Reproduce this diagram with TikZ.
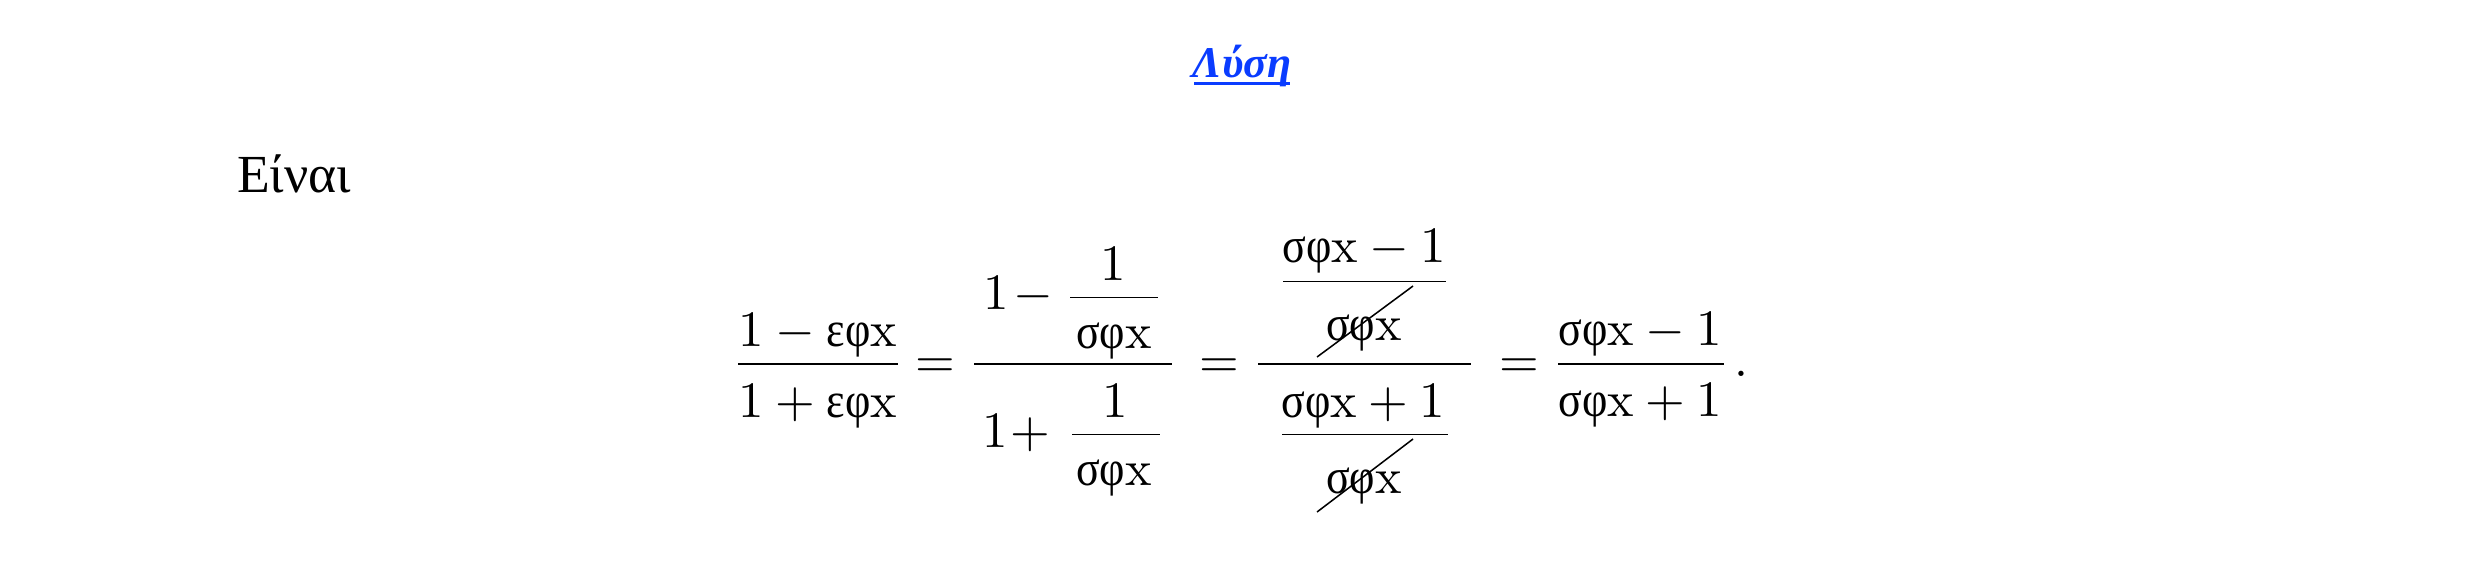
\documentclass[tikz,border=0pt]{standalone}
\usepackage{fontspec}
\newfontfamily\grf{Liberation Serif}
\newfontfamily\grm[FakeStretch=0.88]{Liberation Serif}
\definecolor{linkblue}{RGB}{10,60,255}
\newcommand\sfx{\mbox{\grm σφ}\mathrm{x}}
\newcommand\efx{\mbox{\grm εφ}\mathrm{x}}
\begin{document}
\begin{tikzpicture}[x=0.196pt,y=-0.196pt,
  txt/.style={inner sep=0pt,outer sep=0pt,anchor=base,font=\fontsize{9.8}{12}\selectfont},
  mainbar/.style={line width=0.4pt},
  subbar/.style={line width=0.2pt},
  cancelline/.style={line width=0.3pt}]
\useasboundingbox (0,0) rectangle (2480,569);
% title
\node[txt, font=\fontsize{8.6}{10}\selectfont\grf\bfseries\itshape, text=linkblue] (title) at (1242,77) {Λύση};
\coordinate (ulA) at (1194,83.5);
\coordinate (ulB) at (1290,83.5);
\draw[linkblue, line width=0.6pt] (ulA) -- (ulB);
% intro
\node[txt, anchor=base west, font=\fontsize{10.5}{12}\selectfont\grf] (einai) at (237,192) {Είναι};
% fraction 1
\node[txt] (n1) at (818,346) {$1-\efx$};
\node[txt] (d1) at (818,417) {$1+\efx$};
\draw[mainbar] (738,364) -- (898,364);
\node[txt] (eq1) at (935.5,377) {$=$};
% fraction 2
\node[txt] (n2a) at (996,309) {$1$};
\node[txt] (n2b) at (1033,309) {$-$};
\node[txt] (n2c) at (1113,280) {$1$};
\draw[subbar] (1070,297) -- (1158,297);
\node[txt] (n2d) at (1114,348) {$\sfx$};
\draw[mainbar] (974,364) -- (1172,364);
\node[txt] (d2a) at (995,447) {$1$};
\node[txt] (d2b) at (1030,447) {$+$};
\node[txt] (d2c) at (1115,417) {$1$};
\draw[subbar] (1072,434) -- (1160,434);
\node[txt] (d2d) at (1114,485) {$\sfx$};
\node[txt] (eq2) at (1219.5,377) {$=$};
% fraction 3
\node[txt] (n3a) at (1364.5,262) {$\sfx-1$};
\draw[subbar] (1283,281) -- (1446,281);
\node[txt] (n3b) at (1364,340) {$\sfx$};
\draw[cancelline] (1317,357) -- (1413,286);
\draw[mainbar] (1258,364) -- (1471,364);
\node[txt] (d3a) at (1363.5,417) {$\sfx+1$};
\draw[subbar] (1282,434) -- (1448,434);
\node[txt] (d3b) at (1364,493) {$\sfx$};
\draw[cancelline] (1317,512) -- (1413,439);
\node[txt] (eq3) at (1519.5,377) {$=$};
% fraction 4
\node[txt] (n4) at (1640,345) {$\sfx-1$};
\draw[mainbar] (1558,364) -- (1724,364);
\node[txt] (d4) at (1640,416) {$\sfx+1$};
\node[txt] (dot) at (1741,376) {.};
\end{tikzpicture}
\end{document}
